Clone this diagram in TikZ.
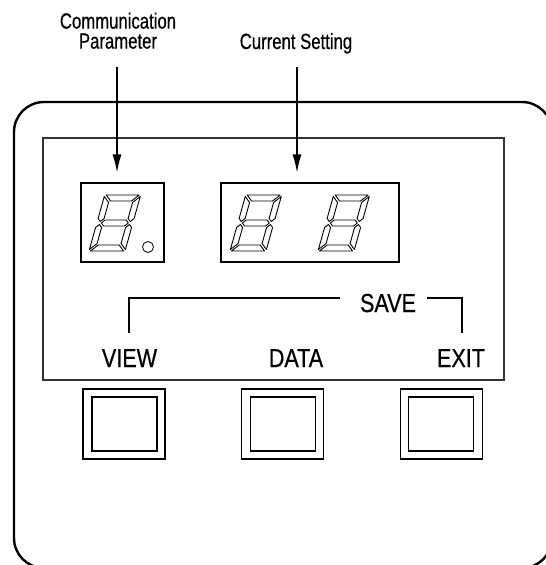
\documentclass[tikz,border=0pt]{standalone}
\usepackage{fontspec}
\setmainfont{Liberation Sans}
\newfontfamily\topcond[FakeStretch=0.76,FakeBold=0.6]{Liberation Sans}
\newfontfamily\keycond[FakeStretch=0.83,FakeBold=0.6]{Liberation Sans}
\usetikzlibrary{arrows.meta}
\begin{document}
\begin{tikzpicture}[x=1pt,y=-1pt,
  toplabel/.style={font=\topcond\fontsize{22}{20}\selectfont, align=center, inner sep=0pt},
  keylabel/.style={font=\keycond\fontsize{26}{26}\selectfont, inner sep=0pt, anchor=base},
  dispbox/.style={draw, line width=1.2pt, inner sep=0pt},
  keyouter/.style={draw, line width=1.1pt, inner sep=0pt, minimum width=82pt, minimum height=70pt},
  keyinner/.style={draw, line width=1.1pt, inner sep=0pt, minimum width=65pt, minimum height=54pt},
  pointer/.style={line width=1.2pt, -{Latex[length=18pt,width=9pt]}},
  seg/.style={line width=0.9pt, line join=round},
  sevenseg/.pic={
    \begin{scope}[yscale=-1, xslant=-0.28]
      \draw[seg] (0,54.5) -- (6,48.5) -- (6,32.5) -- (3,29.5) -- (0,32.5) -- cycle;
      \draw[seg] (0,1.5) -- (0,23.5) -- (3,26.5) -- (6,23.5) -- (6,7.5) -- cycle;
      \draw[seg] (36,54.5) -- (30,48.5) -- (30,32.5) -- (33,29.5) -- (36,32.5) -- cycle;
      \draw[seg] (36,1.5) -- (36,23.5) -- (33,26.5) -- (30,23.5) -- (30,7.5) -- cycle;
      \draw[seg] (1.5,56) -- (34.5,56) -- (28.5,50) -- (7.5,50) -- cycle;
      \draw[seg] (1.5,0) -- (34.5,0) -- (28.5,6) -- (7.5,6) -- cycle;
      \draw[seg] (4.5,28) -- (7.5,31) -- (28.5,31) -- (31.5,28) -- (28.5,25) -- (7.5,25) -- cycle;
    \end{scope}
  }
]
\useasboundingbox (0,0) rectangle (546,565);
\clip (0,0) rectangle (546,565);

% outer housing
\draw[line width=2.4pt, rounded corners=30pt] (14,102) rectangle (552,568);
% display panel
\draw[line width=1.2pt, draw=black!80] (43,138) rectangle (504,380);

% labels
\node[toplabel, anchor=south] (cp) at (118,49) {Communication\\Parameter};
\node[toplabel, anchor=base] (cs) at (296,49) {Current Setting};

% display windows
\node[dispbox, minimum width=83pt, minimum height=79pt] (dispL) at (122.5,222.5) {};
\node[dispbox, minimum width=178pt, minimum height=79pt] (dispR) at (310,222.5) {};

% arrows
\coordinate (a1) at (117,67);
\coordinate (a2) at (297,67);
\draw[pointer, shorten >=10pt] (a1) -- (a1 |- dispL.north);
\draw[pointer, shorten >=10pt] (a2) -- (a2 |- dispR.north);

% digits
\pic at (89,251) {sevenseg};
\pic at (230,251) {sevenseg};
\pic at (318,251) {sevenseg};
\node[draw, circle, line width=0.8pt, minimum size=11pt, inner sep=0pt] (dp) at (148,247) {};

% key labels
\node[keylabel] (view) at (129.5,367) {VIEW};
\node[keylabel] (data) at (296,367) {DATA};
\node[keylabel] (exit) at (461,367) {EXIT};
\node[keylabel] (save) at (388,312) {SAVE};

% SAVE bracket
\coordinate (bl) at (129,333);
\coordinate (sl) at (340,298);
\coordinate (sr) at (427,298);
\coordinate (br) at (462,333);
\draw[line width=1.1pt] (bl) |- (sl);
\draw[line width=1.1pt] (sr) -| (br);

% keys
\node[keyouter] (k1o) at (124,424) {};
\node[keyinner] (k1i) at (124.5,424) {};
\node[keyouter] (k2o) at (282.5,424) {};
\node[keyinner] (k2i) at (283,424) {};
\node[keyouter] (k3o) at (441.5,424) {};
\node[keyinner] (k3i) at (441,424) {};
\end{tikzpicture}
\end{document}
